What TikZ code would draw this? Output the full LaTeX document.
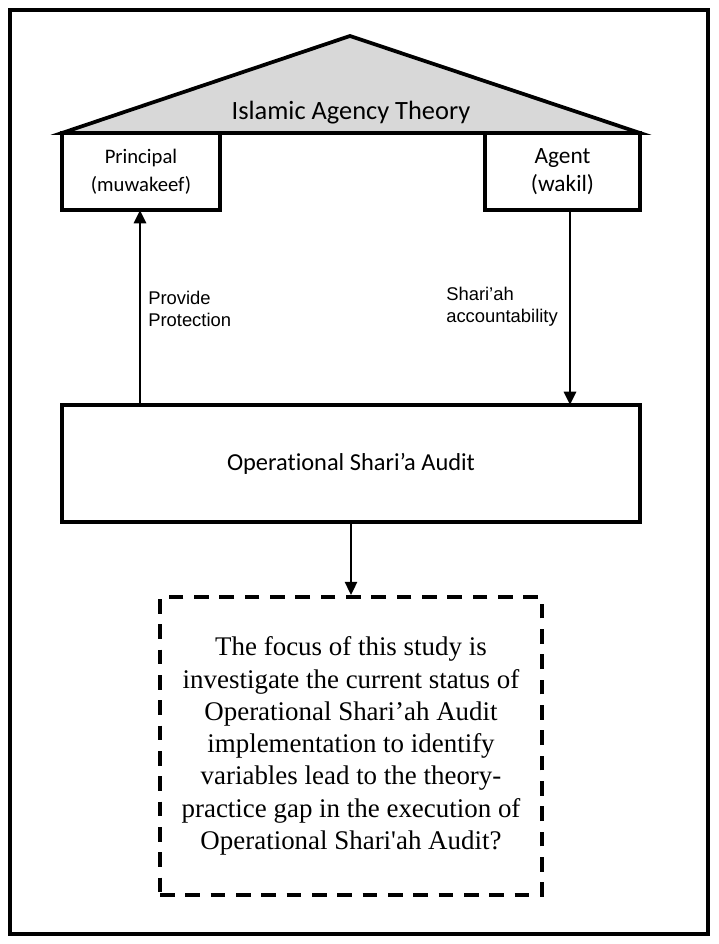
\documentclass[tikz,border=0pt]{standalone}
\usepackage{fontspec}
\setmainfont{Liberation Serif}[Ligatures={TeXOff,NoCommon}]
\newfontfamily\calfont{Carlito}[Ligatures={NoCommon}]
\newfontfamily\arialfont{Liberation Sans}
\usetikzlibrary{arrows.meta}
\definecolor{roofgray}{RGB}{216,216,216}
\begin{document}
\begin{tikzpicture}[x=0.75pt,y=-0.75pt,
  box/.style={draw=black,line width=2.8pt,fill=white,inner sep=0pt,align=center},
  arr/.style={line width=2.1pt,-{Triangle[length=10pt,width=9pt]}},
  lbl/.style={font=\arialfont\fontsize{13.8}{16.5}\selectfont,align=left,inner sep=0pt,anchor=west}]
\useasboundingbox (0,0) rectangle (718,944);
\draw[line width=3.5pt] (10,10) rectangle (708,934);
% roof
\coordinate (apex) at (350,36);
\coordinate (bl) at (62,133);
\coordinate (br) at (640,133);
\draw[line width=2.8pt,fill=roofgray,line join=miter] (bl) -- (apex) -- (br) -- cycle;
\node[font=\calfont\fontsize{19.8}{22}\selectfont] (theory) at (351,113) {Islamic Agency Theory};
% boxes
\node[box,minimum width=158*0.75pt,minimum height=77*0.75pt,font=\calfont\fontsize{15.5}{21}\selectfont] (principal) at (141,171.5) {Principal\\(muwakeef)};
\node[box,minimum width=155*0.75pt,minimum height=77*0.75pt,font=\calfont\fontsize{17.5}{21}\selectfont] (agent) at (562.5,171.5) {Agent\\(wakil)};
\node[box,minimum width=578*0.75pt,minimum height=117*0.75pt,font=\calfont\fontsize{18.3}{22}\selectfont] (audit) at (351,463.5) {Operational Shari’a Audit};
\node[box,dashed,dash pattern=on 11pt off 8pt,minimum width=382*0.75pt,minimum height=298*0.75pt,font=\fontsize{20.2}{24.2}\selectfont] (focus) at (351,746)
 {The focus of this study is\\investigate the current status of\\Operational Shari’ah Audit\\implementation to identify\\variables lead to the theory-\\practice gap in the execution of\\Operational Shari'ah Audit?};
% arrows
\coordinate (pa) at (140,405);
\coordinate (pb) at (140,210);
\coordinate (aa) at (570,212);
\coordinate (ab) at (570,405);
\draw[arr] (pa) -- (pb);
\draw[arr] (aa) -- (ab);
\draw[arr] (audit.south) -- (focus.north);
% labels
\node[lbl] (lprot) at (148,309) {Provide\\Protection};
\node[lbl] (lacc) at (446,307) {Shari’ah\\accountability};
\end{tikzpicture}
\end{document}
